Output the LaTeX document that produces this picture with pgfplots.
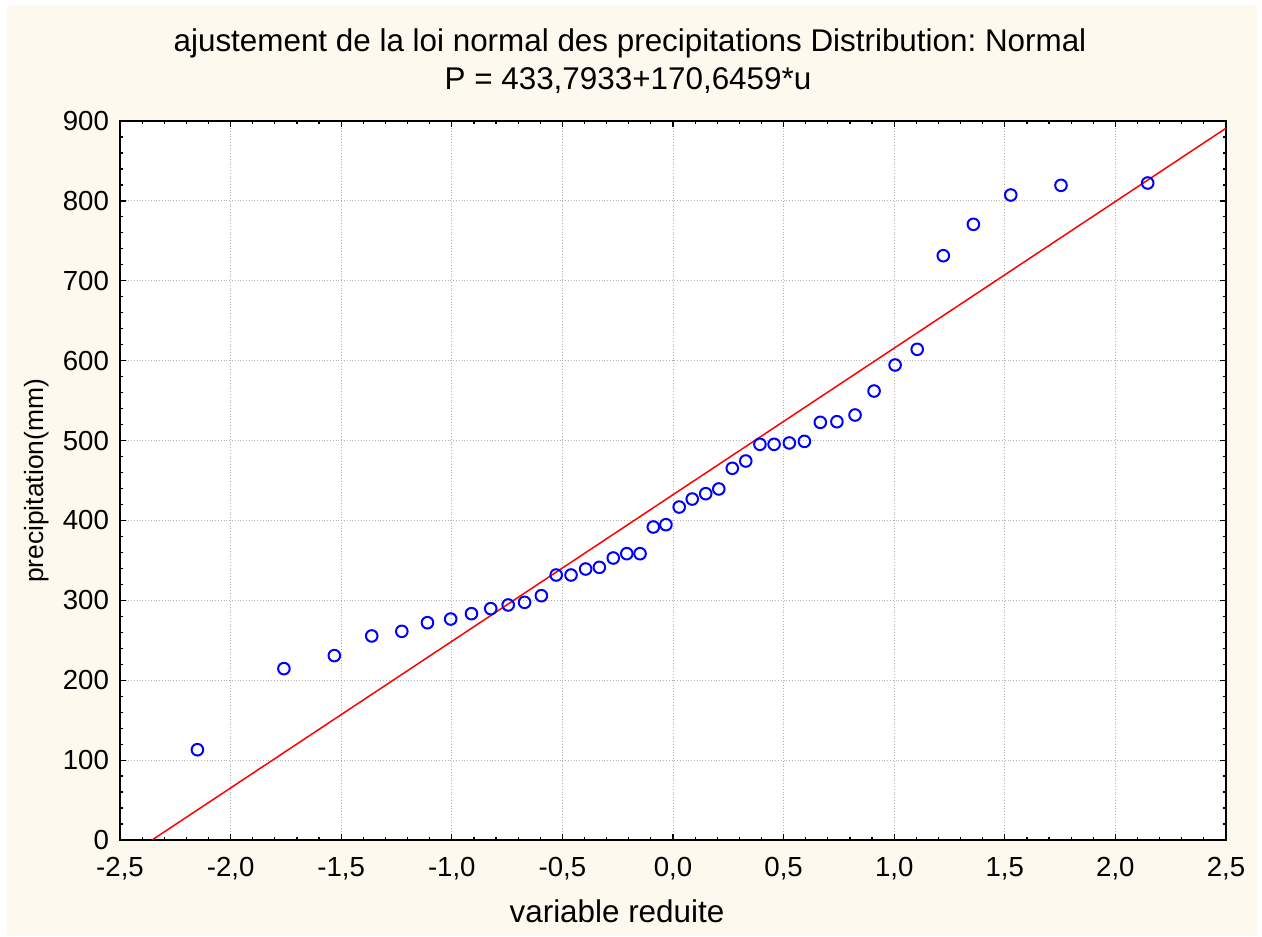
\documentclass[border=0pt]{standalone}
\usepackage{fontspec}
\setmainfont{Liberation Sans}
\usepackage{pgfplots}
\pgfplotsset{compat=1.18}
\definecolor{cream}{RGB}{253,249,238}
\frenchspacing
\begin{document}
\begin{tikzpicture}
\path[use as bounding box] (-60pt,-48pt) rectangle (571pt,420pt);
\fill[white] (-60pt,-48pt) rectangle (571pt,420pt);
\fill[cream] (-56.5pt,-48pt) rectangle (568.5pt,417.5pt);
\begin{axis}[
  at={(0,0)}, anchor=south west,
  scale only axis, width=553pt, height=359.5pt,
  xmin=-2.5, xmax=2.5, ymin=0, ymax=900,
  xtick={-2.5,-2,-1.5,-1,-0.5,0,0.5,1,1.5,2,2.5},
  ytick={0,100,200,300,400,500,600,700,800,900},
  minor x tick num=4, minor y tick num=4,
  tick align=inside,
  major tick length=2.8pt, minor tick length=1.6pt,
  tick style={black, line width=0.6pt},
  axis line style={black, line width=1pt},
  axis background/.style={fill=white},
  grid=major,
  major grid style={black!30, densely dotted, line width=0.5pt},
  /pgf/number format/assume math mode=true,
  ticklabel style={font=\fontsize{13.8}{15}\selectfont},
  xticklabel style={/pgf/number format/fixed, /pgf/number format/fixed zerofill, /pgf/number format/precision=1, /pgf/number format/use comma, yshift=-5pt},
  yticklabel style={/pgf/number format/fixed, /pgf/number format/precision=0, xshift=-2pt},
  clip=true,
]
\addplot[red, line width=0.75pt] coordinates {(-2.355,0) (2.5,891)};
\addplot[only marks, mark=o, mark size=2.9pt, blue, mark options={line width=1pt}] coordinates {
(-2.150,113.0) (-1.759,214.5) (-1.531,230.8) (-1.362,255.4) (-1.226,261.2)
(-1.110,272.0) (-1.005,276.6) (-0.911,283.3) (-0.824,289.6) (-0.745,294.2)
(-0.671,297.5) (-0.595,305.8) (-0.528,331.7) (-0.461,331.7) (-0.395,339.2)
(-0.333,341.3) (-0.270,353.0) (-0.209,358.4) (-0.149,358.4) (-0.089,391.8)
(-0.032,394.7) (0.028,416.8) (0.087,426.8) (0.148,433.5) (0.207,439.4)
(0.268,465.3) (0.329,474.4) (0.393,495.3) (0.457,495.3) (0.526,497.0)
(0.594,499.0) (0.666,522.8) (0.741,523.6) (0.823,532.0) (0.909,562.0)
(1.004,594.6) (1.104,614.2) (1.222,731.4) (1.358,770.7) (1.527,807.4)
(1.754,819.5) (2.146,822.4)
};
\end{axis}
\node[anchor=base, font=\fontsize{15.7}{18}\selectfont] at (255pt,394pt) {ajustement de la loi normal des precipitations Distribution: Normal};
\node[anchor=base, font=\fontsize{15.7}{18}\selectfont] at (254pt,375pt) {P = 433,7933+170,6459*u};
\node[rotate=90, font=\fontsize{13.2}{15}\selectfont] at (-41.5pt,179.5pt) {precipitation(mm)};
\node[anchor=base, font=\fontsize{15.7}{18}\selectfont] at (248.5pt,-41pt) {variable reduite};
\end{tikzpicture}
\end{document}
